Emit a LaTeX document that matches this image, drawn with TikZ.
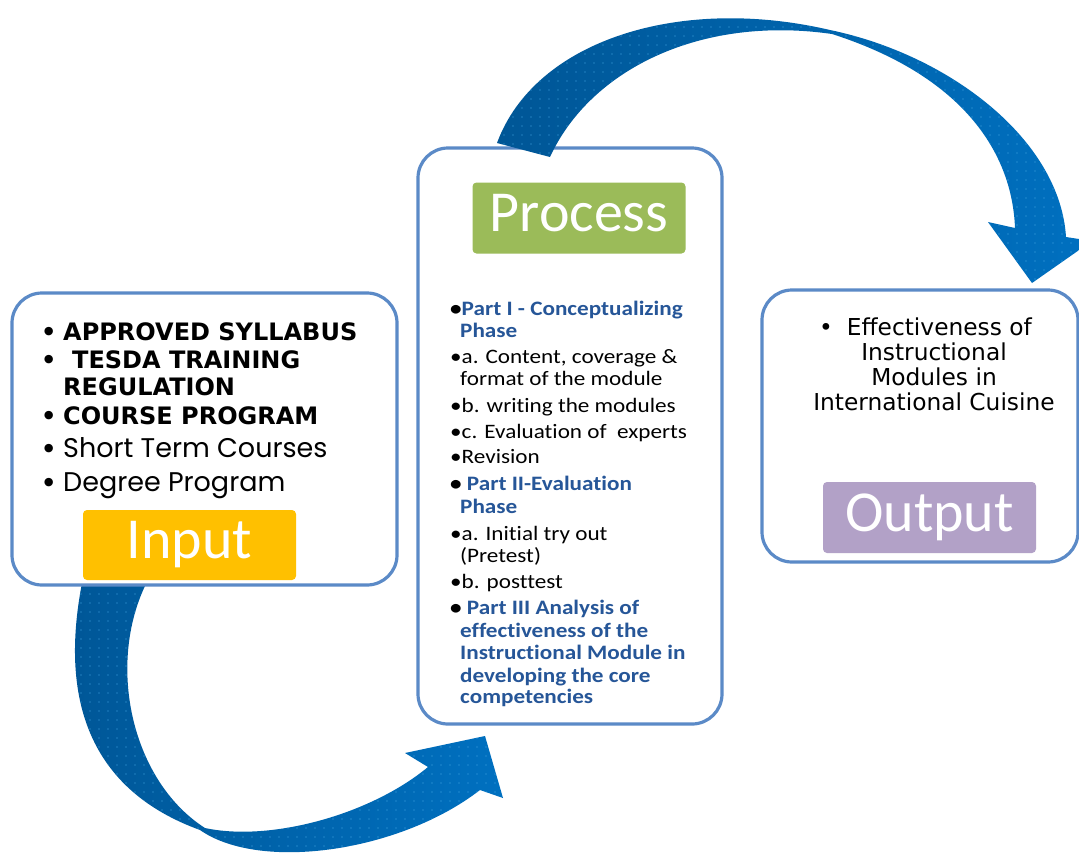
\documentclass[tikz,border=0pt]{standalone}
\usepackage{fontspec}
\usetikzlibrary{patterns.meta}
\setmainfont{Carlito}
\newfontfamily\calfont{Carlito}
\newfontfamily\calwide[FakeStretch=1.13, Ligatures={NoCommon}]{Carlito}
\newfontfamily\dvfont{DejaVu Sans}
\newfontfamily\popfont{Poppins}

\definecolor{framecol}{RGB}{91,138,199}
\definecolor{headcol}{RGB}{38,86,152}
\definecolor{goldcol}{RGB}{255,192,0}
\definecolor{greencol}{RGB}{155,187,89}
\definecolor{lilaccol}{RGB}{178,161,199}
\definecolor{arrowdark}{RGB}{0,86,150}
\definecolor{arrowlight}{RGB}{0,112,192}
\definecolor{dotcol}{RGB}{70,170,230}

\newcommand\inbul{\makebox[22pt][l]{\dvfont\bfseries\fontsize{24}{28}\selectfont •}}

\begin{document}
\begin{tikzpicture}[x=1pt,y=-1pt,
  frame/.style={draw=framecol, line width=3.2pt, fill=white, rounded corners=30pt, inner sep=0pt},
  tag/.style={rounded corners=4pt, inner sep=0pt, text=white, text height=37pt, text depth=10pt,
              font=\calfont\fontsize{58}{62}\selectfont},
  bigarrow/.style={left color=arrowdark, right color=arrowlight,
              postaction={pattern={Dots[distance=9pt,radius=0.55pt]}, pattern color=dotcol}},
  inbold/.style={anchor=base west, inner sep=0pt, font=\dvfont\bfseries\fontsize{24}{28}\selectfont},
  inplain/.style={anchor=base west, inner sep=0pt, font=\popfont\fontsize{27}{30}\selectfont},
  pline/.style={anchor=base west, inner sep=0pt, font=\calwide\fontsize{20.5}{24}\selectfont},
  phead/.style={pline, text=headcol, font=\calwide\bfseries\fontsize{20.5}{24}\selectfont},
  oline/.style={anchor=base, inner sep=0pt, font=\dvfont\fontsize{23.3}{28}\selectfont},
]
\useasboundingbox (0,0) rectangle (1079,855);
\fill[white] (0,0) rectangle (1079,855);
\clip (0,0) rectangle (1079,855);

% sweeping arrow from Input to Process
\path[bigarrow]
  (83,578) .. controls (58,700) and (90,790) .. (200,830)
  .. controls (260,872) and (400,852) .. (480,790)
  -- (503,798) -- (485,736) -- (405,753) -- (428,767)
  .. controls (370,815) and (270,842) .. (205,828)
  .. controls (130,780) and (105,660) .. (149,578) -- cycle;

% the three frames
\node[frame, minimum width=385pt, minimum height=292pt] (inbox)  at (204.5,439) {};
\node[frame, minimum width=304pt, minimum height=576pt] (procbox) at (570,436) {};
\node[frame, minimum width=316pt, minimum height=272pt] (outbox) at (920,426) {};

% coloured labels
\node[tag, fill=goldcol,  minimum width=213pt, minimum height=70pt] (intag)   at (189.5,545) {Input};
\node[tag, fill=greencol, minimum width=213pt, minimum height=71pt] (proctag) at (579,218) {Process};
\node[tag, fill=lilaccol, minimum width=213pt, minimum height=71pt] (outtag)  at (929.5,517.5) {Output};

% input items
\node[inbold] (in1) at (41,340) {\inbul APPROVED SYLLABUS};
\node[inbold] (in2) at (41,368) {\inbul\hspace{9pt}TESDA TRAINING};
\node[inbold] (in3) at (63,395) {REGULATION};
\node[inbold] (in4) at (41,424) {\inbul COURSE PROGRAM};
\node[inplain] (in5) at (41,457) {\inbul Short Term Courses};
\node[inplain] (in6) at (41,491) {\inbul Degree Program};

% process items
\node[phead] (p1)  at (450,315) {{\color{black}•}Part I - Conceptualizing};
\node[phead] (p2)  at (460,337) {Phase};
\node[pline] (p3)  at (450,363) {•a. Content, coverage \&};
\node[pline] (p4)  at (460,385) {format of the module};
\node[pline] (p5)  at (450,412) {•b. writing the modules};
\node[pline] (p6)  at (450,438) {•c. Evaluation of\ \ experts};
\node[pline] (p7)  at (450,463) {•Revision};
\node[phead] (p8)  at (450,490) {{\color{black}•} Part II-Evaluation};
\node[phead] (p9)  at (460,513) {Phase};
\node[pline] (p10) at (450,540) {•a. Initial try out};
\node[pline] (p11) at (460,562) {(Pretest)};
\node[pline] (p12) at (450,588) {•b. posttest};
\node[phead] (p13) at (450,614) {{\color{black}•} Part III Analysis of};
\node[phead] (p14) at (460,637) {effectiveness of the};
\node[phead] (p15) at (460,659) {Instructional Module in};
\node[phead] (p16) at (460,682) {developing the core};
\node[phead] (p17) at (460,703) {competencies};

% output items
\node[oline, anchor=base west] (o1) at (819,335) {•\hspace{14pt}Effectiveness of};
\node[oline] (o2) at (934,360) {Instructional};
\node[oline] (o3) at (934,385) {Modules in};
\node[oline] (o4) at (934,410) {International Cuisine};

% sweeping arrow from Process to Output
\path[bigarrow]
  (497,143) .. controls (535,40) and (680,-5) .. (830,30)
  .. controls (950,55) and (1060,140) .. (1066,237)
  -- (1092,241) -- (1032,283) -- (988,222) -- (1015,228)
  .. controls (1012,150) and (960,75) .. (832,34)
  .. controls (700,15) and (590,70) .. (550,157) -- cycle;
\end{tikzpicture}
\end{document}
